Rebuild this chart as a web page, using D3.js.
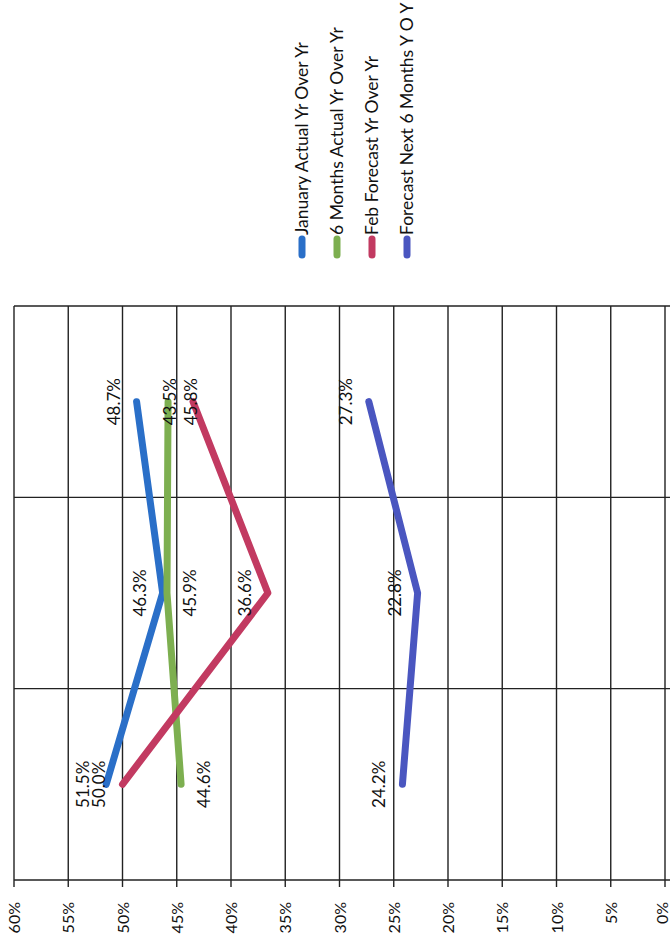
<!DOCTYPE html>
<html>
<head>
<meta charset="utf-8">
<script src="https://cdn.jsdelivr.net/npm/d3@7"></script>
<style>
  html, body { margin: 0; padding: 0; background: #ffffff; }
  svg { display: block; }
  text { font-family: Lato, "Open Sans", sans-serif; fill: #111; }
</style>
</head>
<body>
<svg id="chart" width="670" height="936"></svg>
<script>
// Year-over-year comparison, drawn with the value axis running across the page
const categories = ["Period 1", "Period 2", "Period 3"];
const seriesNames = [
  "January Actual Yr Over Yr",
  "6 Months Actual Yr Over Yr",
  "Feb Forecast Yr Over Yr",
  "Forecast Next 6 Months Y O Y"
];
const januaryActual = [51.5, 46.3, 48.7];
const sixMonthsActual = [44.6, 45.9, 45.8];
const febForecast = [50.0, 36.6, 43.5];
const forecastNextSix = [24.2, 22.8, 27.3];
const valueTicks = [0, 5, 10, 15, 20, 25, 30, 35, 40, 45, 50, 55, 60];

const seriesValues = [januaryActual, sixMonthsActual, febForecast, forecastNextSix];
const colors = ["#2a6fc8", "#7daf50", "#c23a61", "#4a56c0"];
// which side of its point each series' value labels sit on (-1 = toward higher values)
const labelSide = [-1, 1, -1, -1];

const svg = d3.select("#chart");

const plot = { left: 14, right: 665, top: 306, bottom: 880 };

const x = d3.scaleLinear().domain([0, 60]).range([plot.right, plot.left]);
const y = d3.scaleBand().domain(categories).range([plot.bottom, plot.top]);
const yc = c => y(c) + y.bandwidth() / 2;

const gridColor = "#222";

// value gridlines (vertical), extended slightly past the bottom border as ticks
svg.append("g")
  .selectAll("line")
  .data(valueTicks)
  .join("line")
  .attr("x1", d => x(d)).attr("x2", d => x(d))
  .attr("y1", plot.top).attr("y2", plot.bottom + 7)
  .attr("stroke", gridColor).attr("stroke-width", 1.4);

// category boundaries (horizontal), extended past the right border as ticks
const boundaryYs = [plot.bottom].concat(categories.map(c => y(c)));
svg.append("g")
  .selectAll("line")
  .data(boundaryYs)
  .join("line")
  .attr("x1", plot.left).attr("x2", plot.right + 7)
  .attr("y1", d => d).attr("y2", d => d)
  .attr("stroke", gridColor).attr("stroke-width", 1.4);

// value axis labels, rotated
const axis = d3.axisBottom(x)
  .tickValues(valueTicks)
  .tickFormat(d => d + "%")
  .tickSize(0)
  .tickPadding(0);
const axisG = svg.append("g")
  .attr("transform", `translate(0,${plot.bottom})`)
  .call(axis);
axisG.select(".domain").remove();
axisG.selectAll(".tick text")
  .attr("transform", "rotate(-90)")
  .attr("x", -22)
  .attr("y", 0)
  .attr("dy", "0.35em")
  .attr("text-anchor", "end")
  .style("font-size", "16px")
  .style("font-family", "Lato, sans-serif")
  .style("fill", "#111");
// keep the last label inside the page edge
axisG.selectAll(".tick text").filter(d => d === 0).attr("y", -3);

// series lines
const line = d3.line()
  .x(d => x(d.v))
  .y(d => yc(d.c));

const seriesData = seriesNames.map((name, i) => ({
  name,
  color: colors[i],
  side: labelSide[i],
  points: categories.map((c, j) => ({ c, v: seriesValues[i][j] }))
}));

svg.append("g")
  .selectAll("path")
  .data(seriesData)
  .join("path")
  .attr("d", d => line(d.points))
  .attr("fill", "none")
  .attr("stroke", d => d.color)
  .attr("stroke-width", 7)
  .attr("stroke-linecap", "round")
  .attr("stroke-linejoin", "round");

// value labels
const labelG = svg.append("g");
seriesData.forEach(s => {
  labelG.selectAll(null)
    .data(s.points)
    .join("text")
    .attr("transform", d => `translate(${x(d.v) + s.side * 23},${yc(d.c)}) rotate(-90)`)
    .attr("text-anchor", "middle")
    .attr("dy", "0.35em")
    .style("font-size", "17px")
    .text(d => d.v.toFixed(1) + "%");
});

// legend
const legend = svg.append("g");
const legendX0 = 302, legendStep = 35, legendY = 235;
seriesData.forEach((s, i) => {
  const lx = legendX0 + i * legendStep;
  legend.append("line")
    .attr("x1", lx).attr("x2", lx)
    .attr("y1", legendY + 4).attr("y2", legendY + 20)
    .attr("stroke", s.color)
    .attr("stroke-width", 7)
    .attr("stroke-linecap", "round");
  legend.append("text")
    .attr("transform", `translate(${lx},${legendY}) rotate(-90)`)
    .attr("text-anchor", "start")
    .attr("dy", "0.35em")
    .style("font-size", "17.5px")
    .text(s.name);
});
</script>
</body>
</html>
